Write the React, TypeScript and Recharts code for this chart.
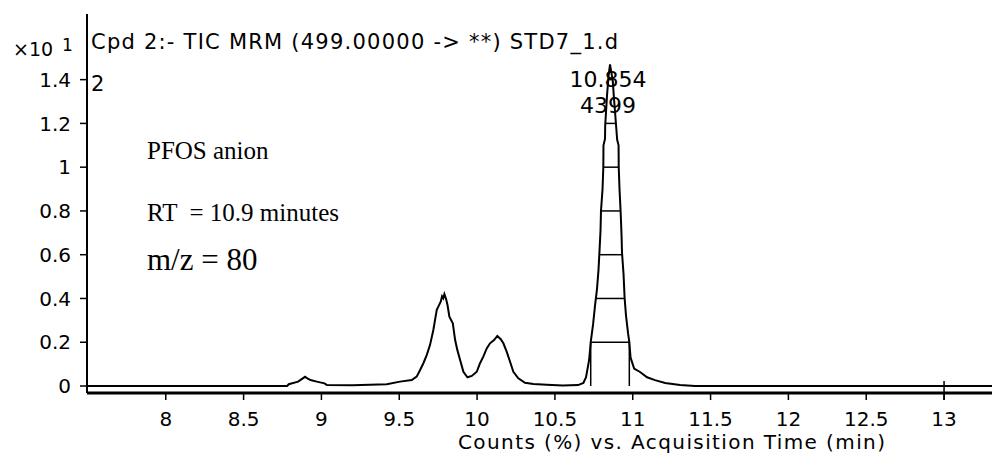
import React from 'react';
import { ComposedChart, Line, XAxis, YAxis, ReferenceLine, ReferenceDot } from 'recharts';

// Acquisition time (min)
const times = [
  7.494, 8.78, 8.79, 8.85, 8.895, 8.91, 8.93, 8.97, 9.02, 9.035, 9.2, 9.42,
  9.505, 9.58, 9.612, 9.634, 9.655, 9.677, 9.698, 9.719, 9.73, 9.741, 9.751,
  9.767, 9.775, 9.783, 9.79, 9.8, 9.81, 9.822, 9.844, 9.859, 9.873, 9.891,
  9.912, 9.938, 9.966, 9.998, 10.019, 10.04, 10.062, 10.083, 10.109, 10.13,
  10.152, 10.169, 10.19, 10.212, 10.233, 10.265, 10.308, 10.362, 10.448,
  10.55, 10.649, 10.683, 10.7, 10.72, 10.73, 10.745, 10.758, 10.77, 10.78,
  10.786, 10.793, 10.796, 10.806, 10.811, 10.812, 10.822, 10.823, 10.835,
  10.845, 10.854, 10.863, 10.871, 10.88, 10.893, 10.9, 10.909, 10.91, 10.915,
  10.922, 10.928, 10.931, 10.941, 10.948, 10.957, 10.97, 10.978, 10.986,
  11.009, 11.047, 11.092, 11.143, 11.208, 11.304, 11.4, 13.308,
];
// Counts (x10^1 %)
const counts = [
  0, 0, 0.008, 0.02, 0.042, 0.035, 0.027, 0.02, 0.012, 0.004, 0.003, 0.008,
  0.02, 0.027, 0.043, 0.073, 0.104, 0.142, 0.188, 0.256, 0.302, 0.348, 0.363,
  0.386, 0.41, 0.401, 0.42, 0.4, 0.37, 0.317, 0.287, 0.21, 0.165, 0.119,
  0.065, 0.04, 0.046, 0.065, 0.104, 0.134, 0.172, 0.195, 0.21, 0.229,
  0.214, 0.195, 0.157, 0.111, 0.065, 0.035, 0.015, 0.009, 0.006,
  0.002, 0.004, 0.014, 0.04, 0.12, 0.2, 0.28, 0.37, 0.44, 0.53,
  0.61, 0.71, 0.8, 0.9, 1.0, 1.1, 1.13, 1.19, 1.33,
  1.42, 1.47, 1.43, 1.4, 1.31, 1.19, 1.125, 1.1, 1.0, 0.9,
  0.8, 0.69, 0.61, 0.51, 0.4, 0.32, 0.24, 0.2, 0.13,
  0.08, 0.064, 0.04, 0.027, 0.014, 0.005, 0, 0,
];

const xTicks = [8, 8.5, 9, 9.5, 10, 10.5, 11, 11.5, 12, 12.5, 13];
const yTicks = [0, 0.2, 0.4, 0.6, 0.8, 1, 1.2, 1.4];
const hatchLevels = [0.2, 0.4, 0.6, 0.8, 1.0, 1.2, 1.4];
const integrationStart = 10.73;
const integrationEnd = 10.978;
const apexTime = 10.854;
const apexCount = 1.47;
const apexLabel = '10.854';
const areaLabel = '4399';
const markerTimes = [13];

const data = times.map((t, i) => ({ t, v: counts[i] }));

function interp(t: number): number {
  for (let i = 0; i < times.length - 1; i++) {
    if (t >= times[i] && t <= times[i + 1]) {
      const f = (t - times[i]) / (times[i + 1] - times[i]);
      return counts[i] + f * (counts[i + 1] - counts[i]);
    }
  }
  return 0;
}

function hatchSpan(level: number): [number, number] | null {
  let left: number | null = interp(integrationStart) >= level ? integrationStart : null;
  let right: number | null = interp(integrationEnd) >= level ? integrationEnd : null;
  for (let i = 0; i < times.length - 1; i++) {
    const ta = times[i], tb = times[i + 1], va = counts[i], vb = counts[i + 1];
    if (tb < integrationStart || ta > integrationEnd) continue;
    if ((va - level) * (vb - level) <= 0 && va !== vb) {
      const tc = ta + ((level - va) / (vb - va)) * (tb - ta);
      if (tc < integrationStart || tc > integrationEnd) continue;
      if (vb > va && left === null) left = tc;
      if (vb < va) right = tc;
    }
  }
  if (left === null || right === null || right <= left) return null;
  return [left, right];
}

const SANS = 'DejaVu Sans';
const SERIF = 'Liberation Serif';

const ApexLabel = (props: any) => {
  const { cx, cy } = props;
  return (
    <g>
      <text x={cx - 2} y={cy + 23} textAnchor="middle" fontFamily={SANS} fontSize={22} fill="#000">
        {apexLabel}
      </text>
      <text x={cx - 2} y={cy + 49} textAnchor="middle" fontFamily={SANS} fontSize={22} fill="#000">
        {areaLabel}
      </text>
    </g>
  );
};

export default function App() {
  return (
    <div style={{ position: 'absolute', left: 0, top: 0, width: 992, height: 454, background: '#fff' }}>
      <ComposedChart
        width={992}
        height={454}
        data={data}
        margin={{ top: 14, right: 0, bottom: 0, left: 0 }}
      >
        <XAxis
          type="number"
          dataKey="t"
          domain={[7.494, 13.308]}
          allowDataOverflow
          ticks={xTicks}
          interval={0}
          tickFormatter={(v: number) => String(v)}
          height={61}
          tickSize={7}
          tickMargin={12}
          axisLine={{ stroke: '#000', strokeWidth: 3 }}
          tickLine={{ stroke: '#000', strokeWidth: 1.5 }}
          tick={{ fill: '#000', fontSize: 20, fontFamily: SANS }}
        />
        <YAxis
          type="number"
          domain={[-0.032, 1.7]}
          allowDataOverflow
          ticks={yTicks}
          interval={0}
          tickFormatter={(v: number) => String(v)}
          width={87}
          tickSize={7}
          tickMargin={9}
          axisLine={{ stroke: '#000', strokeWidth: 2 }}
          tickLine={{ stroke: '#000', strokeWidth: 1.5 }}
          tick={{ fill: '#000', fontSize: 20, fontFamily: SANS }}
        />
        {hatchLevels.map((lv) => {
          const s = hatchSpan(lv);
          if (!s) return null;
          return (
            <ReferenceLine
              key={'h' + lv}
              segment={[{ x: s[0], y: lv }, { x: s[1], y: lv }]}
              stroke="#000"
              strokeWidth={1.5}
            />
          );
        })}
        {[integrationStart, integrationEnd].map((t) => (
          <ReferenceLine
            key={'d' + t}
            segment={[{ x: t, y: 0 }, { x: t, y: interp(t) }]}
            stroke="#000"
            strokeWidth={1.5}
          />
        ))}
        {markerTimes.map((t) => (
          <ReferenceLine
            key={'m' + t}
            segment={[{ x: t, y: 0.023 }, { x: t, y: -0.064 }]}
            stroke="#000"
            strokeWidth={1.5}
            ifOverflow="visible"
          />
        ))}
        <Line
          type="linear"
          dataKey="v"
          stroke="#000"
          strokeWidth={2}
          dot={false}
          isAnimationActive={false}
        />
        <ReferenceDot x={apexTime} y={apexCount} r={0} shape={ApexLabel} ifOverflow="visible" />
      </ComposedChart>
      <svg
        width={992}
        height={454}
        style={{ position: 'absolute', left: 0, top: 0, pointerEvents: 'none' }}
      >
        <text x={13} y={56} fontFamily={SANS} fontSize={19} fill="#000">×10</text>
        <text x={62} y={51} fontFamily={SANS} fontSize={17} fill="#000">1</text>
        <text x={91} y={49} fontFamily={SANS} fontSize={21} fill="#000" textLength={527} lengthAdjust="spacing">
          Cpd 2:- TIC MRM (499.00000 -&gt; **) STD7_1.d
        </text>
        <text x={91} y={91} fontFamily={SANS} fontSize={21} fill="#000">2</text>
        <text x={458} y={449} fontFamily={SANS} fontSize={20} fill="#000" textLength={427} lengthAdjust="spacing">
          Counts (%) vs. Acquisition Time (min)
        </text>
        <text x={147} y={159} fontFamily={SERIF} fontSize={25} fill="#000">PFOS anion</text>
        <text x={147} y={221} fontFamily={SERIF} fontSize={25} fill="#000" xmlSpace="preserve">RT  = 10.9 minutes</text>
        <text x={147} y={270} fontFamily={SERIF} fontSize={31} fill="#000">m/z = 80</text>
      </svg>
    </div>
  );
}
